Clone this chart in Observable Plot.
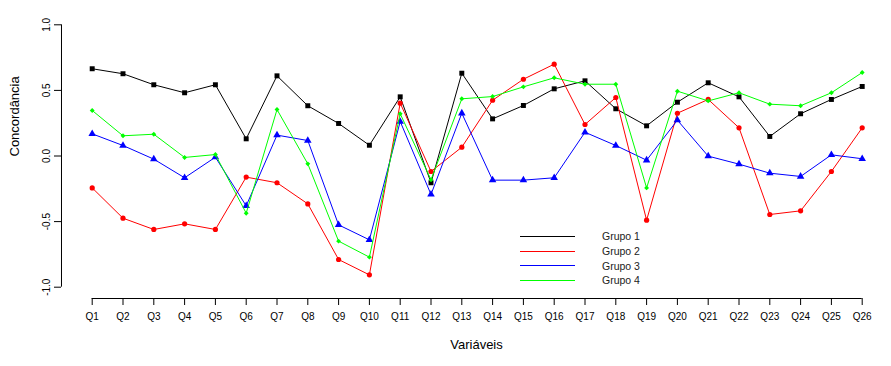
<!DOCTYPE html>
<html>
<head>
<meta charset="utf-8">
<script src="https://cdn.jsdelivr.net/npm/d3@7"></script>
<script src="https://cdn.jsdelivr.net/npm/@observablehq/plot@0.6"></script>
<style>
  body { margin: 0; background: #fff; overflow: hidden; }
  #wrap { position: relative; width: 891px; height: 366px; font-family: "Liberation Sans", Arial, sans-serif; }
  #wrap svg { display: block; }
  #legend { position: absolute; left: 520px; top: 229px; font-size: 10.5px; color: #222; }
  #legend .row { display: flex; align-items: center; height: 14.7px; }
  #legend .sw { width: 55px; height: 1px; margin-right: 27px; }
</style>
</head>
<body>
<div id="wrap"><div id="legend"></div></div>
<script>
const categories = Array.from({length: 26}, (_, i) => "Q" + (i + 1));
const groups = ["Grupo 1", "Grupo 2", "Grupo 3", "Grupo 4"];
const colors = ["#000000", "#FF0000", "#0000FF", "#00FF00"];
const symbols = ["square", "circle", "triangle", "diamond2"];
const symbolR = [2.8, 2.6, 2.8, 2.2];

const grupo1 = [0.665, 0.627, 0.543, 0.482, 0.543, 0.131, 0.611, 0.383, 0.248, 0.082, 0.451, -0.204, 0.631, 0.283, 0.385, 0.512, 0.573, 0.360, 0.230, 0.410, 0.558, 0.451, 0.149, 0.322, 0.431, 0.530];
const grupo2 = [-0.243, -0.474, -0.560, -0.517, -0.560, -0.161, -0.204, -0.365, -0.789, -0.906, 0.403, -0.118, 0.067, 0.425, 0.585, 0.700, 0.240, 0.446, -0.489, 0.326, 0.431, 0.215, -0.446, -0.418, -0.118, 0.215];
const grupo3 = [0.169, 0.080, -0.024, -0.166, -0.009, -0.380, 0.159, 0.118, -0.525, -0.639, 0.263, -0.293, 0.326, -0.184, -0.184, -0.166, 0.181, 0.080, -0.032, 0.273, -0.001, -0.062, -0.131, -0.156, 0.009, -0.021];
const grupo4 = [0.347, 0.154, 0.166, -0.011, 0.011, -0.436, 0.354, -0.060, -0.649, -0.771, 0.322, -0.181, 0.436, 0.453, 0.527, 0.596, 0.547, 0.547, -0.243, 0.494, 0.420, 0.482, 0.395, 0.383, 0.482, 0.636];
const series = [grupo1, grupo2, grupo3, grupo4];
const yTicks = [-1, -0.5, 0, 0.5, 1];

const data = [];
series.forEach((vals, g) => vals.forEach((v, i) => data.push({q: categories[i], v, g})));

const marks = [];
series.forEach((vals, g) => {
  const d = data.filter(r => r.g === g);
  marks.push(Plot.line(d, {x: "q", y: "v", stroke: colors[g], strokeWidth: 1}));
  marks.push(Plot.dot(d, {x: "q", y: "v", symbol: () => symbols[g], fill: colors[g], stroke: "none", r: symbolR[g]}));
});

const first = categories[0], last = categories[categories.length - 1];

const chart = Plot.plot({
  width: 891,
  height: 366,
  marginLeft: 61,
  marginRight: 0,
  marginTop: 14,
  marginBottom: 68,
  style: {fontFamily: "'Liberation Sans', Arial, sans-serif", background: "#fff", color: "#000"},
  symbol: {type: "identity"},
  x: {type: "point", domain: categories, range: [91.7, 861.7], padding: 0, round: false},
  y: {domain: [-1, 1], range: [286.7, 24.3]},
  marks: [
    Plot.axisX({anchor: "bottom", tickSize: 7, tickPadding: 7, fontSize: 10, label: "Variáveis", labelAnchor: "center", labelArrow: "none", labelOffset: 50}),
    Plot.axisY(yTicks, {anchor: "left", tickSize: 7, tickPadding: 5, fontSize: 10, tickRotate: -90, tickFormat: d => d.toFixed(1), label: null}),
    Plot.text(["Concordância"], {frameAnchor: "left", dx: -47, rotate: -90, fontSize: 13, text: d => d}),
    Plot.ruleX([first], {y1: () => yTicks[0], y2: () => yTicks[yTicks.length - 1], dx: -30.7, stroke: "#000"}),
    Plot.ruleY([yTicks[0]], {x1: () => first, x2: () => last, dy: 11.3, stroke: "#000"}),
    ...marks
  ]
});
chart.querySelectorAll('[aria-label="x-axis label"] text').forEach(t => t.setAttribute("font-size", 13));
document.getElementById("wrap").prepend(chart);

const legend = document.getElementById("legend");
groups.forEach((name, g) => {
  const row = document.createElement("div");
  row.className = "row";
  const sw = document.createElement("span");
  sw.className = "sw";
  sw.style.background = colors[g];
  const lb = document.createElement("span");
  lb.textContent = name;
  row.append(sw, lb);
  legend.append(row);
});
</script>
</body>
</html>
